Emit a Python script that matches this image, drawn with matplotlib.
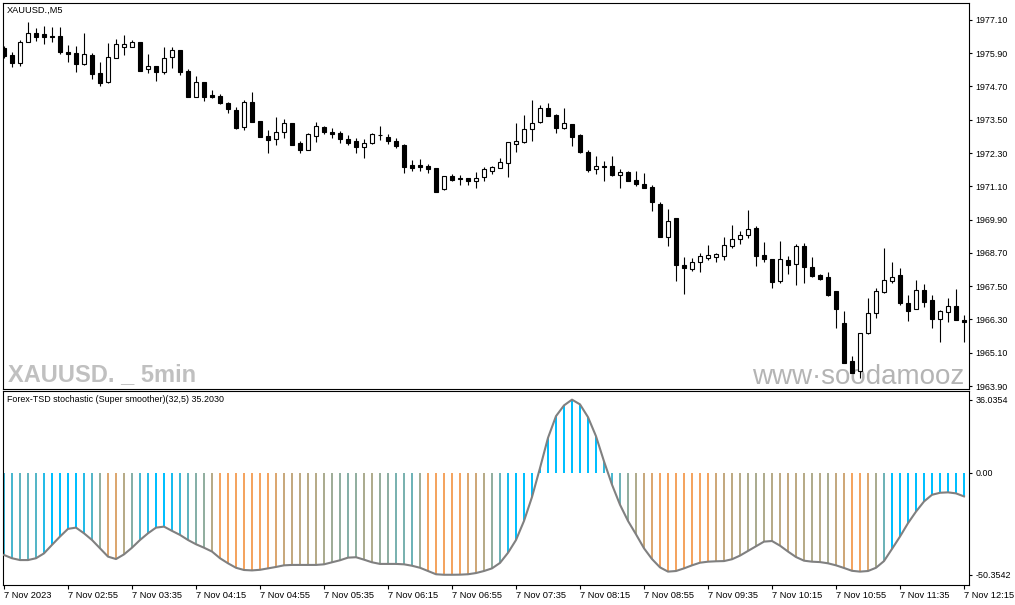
import matplotlib
matplotlib.use("Agg")
import matplotlib.pyplot as plt
import numpy as np

plt.rcParams['font.family'] = ['Liberation Sans', 'DejaVu Sans']

# ---------------- data ----------------
opens = [1976.08, 1975.84, 1975.56, 1976.32, 1976.62, 1976.58, 1976.51, 1976.52, 1975.94, 1975.90,
         1975.50, 1975.84, 1975.18, 1974.87, 1975.74, 1976.14, 1976.14, 1976.30, 1975.32, 1975.44,
         1975.23, 1975.78, 1976.02, 1975.26, 1974.33, 1974.85, 1974.39, 1974.36, 1974.10, 1973.85,
         1973.23, 1974.13, 1973.46, 1972.92, 1972.80, 1973.07, 1973.39, 1972.65, 1972.41, 1972.93,
         1973.23, 1973.07, 1973.04, 1972.80, 1972.74, 1972.53, 1972.65, 1972.96, 1972.87, 1972.74,
         1972.59, 1971.87, 1971.87, 1971.83, 1971.75, 1970.99, 1971.47, 1971.39, 1971.39, 1971.30,
         1971.42, 1971.67, 1971.77, 1971.93, 1972.64, 1972.71, 1973.16, 1973.41, 1973.92, 1973.67,
         1973.19, 1973.34, 1972.95, 1972.33, 1971.72, 1971.83, 1971.83, 1971.50, 1971.62, 1971.33,
         1971.17, 1971.07, 1970.46, 1969.28, 1969.95, 1968.26, 1968.12, 1968.38, 1968.53, 1968.56,
         1968.60, 1968.96, 1969.20, 1969.35, 1969.59, 1968.63, 1968.48, 1967.70, 1968.44, 1968.29,
         1968.95, 1968.19, 1967.90, 1967.83, 1967.33, 1966.17, 1964.80, 1964.44, 1965.80, 1966.52,
         1967.28, 1967.69, 1967.90, 1966.88, 1966.67, 1967.36, 1967.00, 1966.31, 1966.58, 1966.79,
         1966.28]
highs = [1976.16, 1975.94, 1976.38, 1977.02, 1976.80, 1976.88, 1976.84, 1976.84, 1976.20, 1976.16,
         1976.64, 1975.90, 1975.58, 1976.27, 1976.41, 1976.56, 1976.38, 1976.31, 1975.86, 1975.45,
         1976.13, 1976.11, 1976.03, 1975.33, 1975.08, 1974.87, 1974.58, 1974.42, 1974.13, 1973.95,
         1974.21, 1974.50, 1973.47, 1973.13, 1973.59, 1973.52, 1973.40, 1972.74, 1973.01, 1973.41,
         1973.28, 1973.19, 1973.08, 1972.95, 1972.83, 1972.80, 1973.04, 1973.28, 1972.99, 1972.83,
         1972.63, 1972.05, 1972.08, 1971.91, 1971.76, 1971.48, 1971.54, 1971.51, 1971.40, 1971.63,
         1971.81, 1971.85, 1972.11, 1972.70, 1973.40, 1973.67, 1974.21, 1974.03, 1974.10, 1973.71,
         1973.94, 1973.36, 1972.98, 1972.41, 1972.20, 1972.01, 1972.20, 1971.73, 1971.66, 1971.65,
         1971.57, 1971.15, 1970.54, 1970.28, 1969.96, 1968.54, 1968.51, 1968.69, 1968.99, 1968.69,
         1969.27, 1969.71, 1969.49, 1970.25, 1969.68, 1969.10, 1968.49, 1969.13, 1968.59, 1969.01,
         1969.05, 1968.56, 1967.93, 1968.02, 1967.34, 1966.61, 1964.99, 1965.81, 1967.06, 1967.42,
         1968.89, 1968.38, 1968.17, 1967.18, 1967.72, 1967.58, 1967.18, 1966.64, 1967.06, 1967.40,
         1966.46]
lows = [1975.72, 1975.42, 1975.45, 1976.30, 1976.35, 1976.24, 1976.32, 1975.86, 1975.60, 1975.23,
        1975.48, 1974.96, 1974.73, 1974.82, 1975.73, 1975.84, 1976.11, 1975.26, 1975.20, 1974.91,
        1975.14, 1975.36, 1975.12, 1974.32, 1974.32, 1974.19, 1974.28, 1974.06, 1973.76, 1973.18,
        1973.12, 1973.42, 1972.88, 1972.29, 1972.59, 1972.83, 1972.58, 1972.29, 1972.40, 1972.69,
        1972.98, 1972.83, 1972.67, 1972.58, 1972.29, 1972.11, 1972.62, 1972.77, 1972.62, 1972.47,
        1971.57, 1971.65, 1971.65, 1971.57, 1970.90, 1970.98, 1971.30, 1971.15, 1971.15, 1971.03,
        1971.29, 1971.55, 1971.76, 1971.45, 1972.35, 1972.67, 1972.74, 1973.40, 1973.64, 1973.01,
        1973.18, 1972.57, 1972.29, 1971.61, 1971.54, 1971.30, 1971.47, 1971.05, 1971.29, 1971.12,
        1971.04, 1970.22, 1969.27, 1968.96, 1967.70, 1967.22, 1968.06, 1968.02, 1968.44, 1968.38,
        1968.44, 1968.87, 1969.01, 1969.23, 1968.24, 1968.38, 1967.42, 1967.60, 1967.93, 1967.54,
        1967.63, 1967.82, 1967.72, 1967.16, 1966.00, 1964.73, 1964.36, 1964.18, 1965.79, 1966.34,
        1967.24, 1967.60, 1966.82, 1966.26, 1966.66, 1966.74, 1965.98, 1965.50, 1966.22, 1966.27,
        1965.50]
closes = [1975.81, 1975.54, 1976.30, 1976.62, 1976.50, 1976.50, 1976.50, 1975.96, 1975.88, 1975.52,
          1975.86, 1975.14, 1974.84, 1975.75, 1976.22, 1976.22, 1976.30, 1975.27, 1975.44, 1975.23,
          1975.72, 1976.02, 1975.23, 1974.33, 1974.85, 1974.33, 1974.33, 1974.10, 1973.88, 1973.19,
          1974.13, 1973.43, 1972.89, 1972.77, 1973.07, 1973.37, 1972.59, 1972.41, 1972.98, 1973.28,
          1973.07, 1973.00, 1972.80, 1972.65, 1972.53, 1972.65, 1972.98, 1972.95, 1972.75, 1972.57,
          1971.81, 1971.77, 1971.81, 1971.73, 1970.91, 1971.47, 1971.33, 1971.37, 1971.30, 1971.39,
          1971.72, 1971.79, 1971.97, 1972.69, 1972.74, 1973.17, 1973.37, 1973.92, 1973.65, 1973.19,
          1973.37, 1972.89, 1972.35, 1971.70, 1971.83, 1971.79, 1971.50, 1971.61, 1971.30, 1971.17,
          1971.05, 1970.53, 1969.28, 1969.85, 1968.26, 1968.17, 1968.36, 1968.58, 1968.63, 1968.65,
          1968.99, 1969.19, 1969.35, 1969.56, 1968.60, 1968.47, 1967.66, 1968.48, 1968.26, 1968.95,
          1968.18, 1967.88, 1967.75, 1967.18, 1966.67, 1964.74, 1964.37, 1965.80, 1966.52, 1967.33,
          1967.72, 1967.83, 1966.88, 1966.61, 1967.36, 1966.94, 1966.32, 1966.61, 1966.80, 1966.28,
          1966.20]

# oscillator (Forex-TSD stochastic, super smoother)
osc = [-40.6, -42.2, -43.1, -43.1, -42.2, -39.8, -35.6, -31.5, -27.7, -27.1,
       -29.9, -33.2, -37.3, -41.4, -42.6, -40.3, -37.0, -33.2, -29.9, -27.1,
       -26.6, -28.7, -30.7, -33.2, -35.3, -37.0, -38.9, -42.2, -44.7, -46.9,
       -48.0, -48.2, -47.9, -47.2, -46.5, -45.7, -45.5, -45.5, -45.5, -45.5,
       -45.2, -44.2, -43.2, -41.9, -41.7, -42.9, -44.2, -45.0, -45.0, -45.0,
       -45.2, -45.9, -46.9, -48.5, -50.1, -50.35, -50.35, -50.3, -50.1, -49.5,
       -48.5, -47.2, -44.5, -39.5, -33.2, -23.8, -12.0, 2.3, 17.2, 27.9,
       33.2, 36.03, 33.7, 27.4, 18.0, 5.6, -5.9, -15.8, -23.8, -30.4,
       -37.3, -42.6, -46.7, -48.8, -48.5, -47.2, -45.7, -44.4, -43.9, -43.7,
       -43.6, -42.7, -40.9, -38.6, -36.3, -34.0, -33.7, -36.0, -38.9, -41.6,
       -43.4, -43.9, -44.1, -44.7, -45.7, -47.0, -48.4, -48.8, -48.5, -46.9,
       -43.6, -37.6, -31.5, -24.9, -19.2, -14.2, -10.9, -9.9, -9.7, -10.2,
       -11.7]
# colour blend per bar (0 = up colour, 1 = down colour)
mix = [0.25, 0.3, 0.4, 0.4, 0.35, 0.15, 0, 0, 0, 0,
       0.15, 0.35, 0.6, 0.9, 0.9, 0.75, 0.55, 0.3, 0.15, 0,
       0, 0.1, 0.25, 0.4, 0.55, 0.6, 0.75, 1, 1, 1,
       1, 1, 1, 1, 0.9, 0.82, 0.8, 0.78, 0.76, 0.75,
       0.7, 0.65, 0.6, 0.55, 0.6, 0.7, 0.72, 0.62, 0.58, 0.5,
       0.5, 0.45, 0.65, 1, 1, 1, 1, 1, 0.9, 0.85,
       0.75, 0.6, 0.45, 0.1, 0, 0, 0, 0, 0, 0,
       0, 0, 0, 0, 0, 0.2, 0.3, 0.45, 0.6, 0.72,
       0.82, 0.9, 1, 1, 1, 1, 1, 1, 1, 0.85,
       0.8, 0.78, 0.75, 0.72, 0.7, 0.72, 0.75, 0.78, 0.8, 0.78,
       0.75, 0.72, 0.75, 0.7, 0.8, 0.85, 1, 1, 0.9, 0.7,
       0.45, 0, 0, 0, 0, 0, 0, 0, 0, 0,
       0]

price_ticks = [1977.10, 1975.90, 1974.70, 1973.50, 1972.30, 1971.10,
               1969.90, 1968.70, 1967.50, 1966.30, 1965.10, 1963.90]
osc_ticks = [36.0354, 0.0, -50.3542]
osc_tick_labels = ["36.0354", "0.00", "-50.3542"]
time_tick_pos = list(range(0, 121, 8))
time_labels = ["7 Nov 2023", "7 Nov 02:55", "7 Nov 03:35", "7 Nov 04:15",
               "7 Nov 04:55", "7 Nov 05:35", "7 Nov 06:15", "7 Nov 06:55",
               "7 Nov 07:35", "7 Nov 08:15", "7 Nov 08:55", "7 Nov 09:35",
               "7 Nov 10:15", "7 Nov 10:55", "7 Nov 11:35", "7 Nov 12:15"]

symbol_label = "XAUUSD.,M5"
indicator_label = "Forex-TSD stochastic (Super smoother)(32,5) 35.2030"
watermark_left = "XAUUSD. _ 5min"
watermark_right = "www\u00b7soodamooz"

# ---------------- figure ----------------
W, H = 1015, 605
fig = plt.figure(figsize=(W / 100, H / 100), dpi=100)
fig.patch.set_facecolor("white")

def frac(x0, y0, x1, y1):
    return [x0 / W, 1 - y1 / H, (x1 - x0) / W, (y1 - y0) / H]

ax1 = fig.add_axes(frac(3, 3, 969, 388.5))
ax2 = fig.add_axes(frac(3, 391, 969, 585))

x = np.arange(len(opens))
o = np.array(opens); h = np.array(highs); l = np.array(lows); c = np.array(closes)
up = c > o
body_bottom = np.minimum(o, c)
body_height = np.maximum(np.abs(c - o), 0.004)

ax1.vlines(x, l, h, color="black", linewidth=0.8, zorder=2)
ax1.bar(x, body_height, bottom=body_bottom, width=0.6,
        color=np.where(up, "white", "black"), edgecolor="black",
        linewidth=0.8, zorder=3)

ax1.set_xlim(-0.125, 120.625)
ax1.set_ylim(1963.81, 1977.71)
ax1.yaxis.tick_right()
ax1.set_yticks(price_ticks)
ax1.set_yticklabels([f"{v:.2f}" for v in price_ticks])
ax1.set_xticks([])
ax1.tick_params(axis="y", direction="out", length=2.5, width=0.8, pad=2,
                labelsize=6.4, colors="black")

ax1.text(4 / 966, 1 - 3 / 385.5, symbol_label, transform=ax1.transAxes,
         ha="left", va="top", fontsize=6.7, color="black")
ax1.text(5 / 966, 7.5 / 385.5, watermark_left, transform=ax1.transAxes,
         ha="left", va="baseline", fontsize=17, fontweight="bold",
         color="#c0c0c0", zorder=1)
ax1.text(749 / 966, 4.5 / 385.5, watermark_right, transform=ax1.transAxes,
         ha="left", va="baseline", fontsize=20, color="#b4b4b4", zorder=1)

# indicator
mix_a = np.array(mix)[:, None]
c_up = np.array([0, 191, 255]) / 255.0
c_dn = np.array([244, 164, 96]) / 255.0
bar_colors = (1 - mix_a) * c_up + mix_a * c_dn
ax2.bar(x, osc, width=0.36, color=bar_colors, linewidth=0, zorder=2)
ax2.plot(x, osc, color="#808080", linewidth=1.5, zorder=3,
         solid_joinstyle="round")
ax2.set_xlim(-0.125, 120.625)
ax2.set_ylim(-55.4, 40.3)
ax2.yaxis.tick_right()
ax2.set_yticks(osc_ticks)
ax2.set_yticklabels(osc_tick_labels)
ax2.set_xticks(time_tick_pos)
ax2.set_xticklabels(time_labels)
for lab in ax2.get_xticklabels():
    lab.set_ha("left")
ax2.tick_params(axis="y", direction="out", length=2.5, width=0.8, pad=2,
                labelsize=6.4, colors="black")
ax2.tick_params(axis="x", direction="out", length=3, width=0.8, pad=1.5,
                labelsize=6.7, colors="black")
ax2.text(4 / 966, 1 - 9 / 194, indicator_label, transform=ax2.transAxes,
         ha="left", va="center", fontsize=6.4, color="black")

for ax in (ax1, ax2):
    for s in ax.spines.values():
        s.set_color("black")
        s.set_linewidth(0.8)
    ax.set_facecolor("white")

fig.savefig("out.png", dpi=100, facecolor="white")
